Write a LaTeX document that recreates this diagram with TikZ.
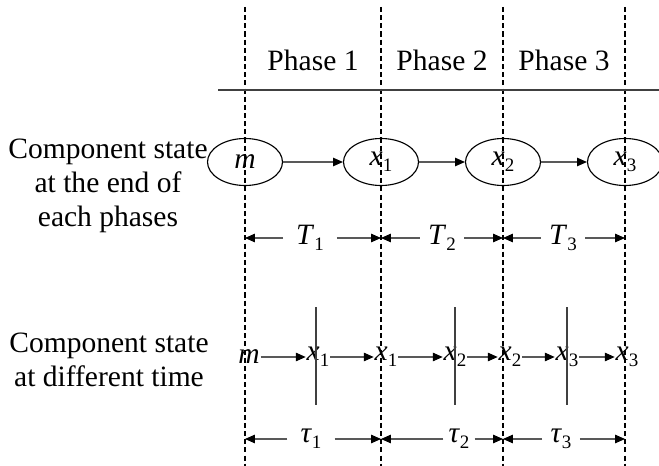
\documentclass[tikz,border=0pt]{standalone}
\usepackage{fontspec}
\setmainfont{Liberation Serif}
\usetikzlibrary{positioning,arrows.meta,shapes.geometric}
\newcommand{\stt}[2]{\textit{#1}\raisebox{-4pt}{\fontsize{13.5}{14}\selectfont #2}}

\begin{document}
\begin{tikzpicture}[x=0.025cm, y=-0.025cm,
  font=\fontsize{21}{24}\selectfont,
  st/.style={draw, ellipse, line width=0.8pt, minimum width=1.875cm, minimum height=1.175cm, inner sep=0pt},
  arr/.style={draw=black!65, line width=0.8pt, -{Triangle[length=7pt, width=6pt, color=black]}},
  ph/.style={dash pattern=on 3.6pt off 2.2pt, line width=0.9pt},
  lab/.style={inner xsep=0.2cm, inner ysep=1pt},
  tk/.style={inner sep=0.5pt}]
\useasboundingbox (0,0) rectangle (659,466);
% phase borders
\foreach \n/\x in {0/245,1/381,2/503,3/625}
  \draw[ph] (\x,7) coordinate (d\n) -- (\x,466);
\draw[line width=0.8pt, black!75] (218,90) -- (659,90);
\node (p1) at (313,60) {Phase 1};
\node (p2) at (442,60) {Phase 2};
\node (p3) at (564,60) {Phase 3};
% end of each phase
\node[align=center] (l1) at (108,186) {Component state\\at the end of\\each  phases};
\node[st] (e0) at (245,162) {\textit{m}};
\node[st] (e1) at (381,162) {\stt{x}{1}};
\node[st] (e2) at (503,162) {\stt{x}{2}};
\node[st] (e3) at (625,162) {\stt{x}{3}};
\foreach \a/\b in {e0/e1,e1/e2,e2/e3} \draw[arr] (\a) -- (\b);
\node[lab, inner xsep=0.32cm] (T1) at (310,238) {\stt{T}{1}};
\node[lab] (T2) at (442,238) {\stt{T}{2}};
\node[lab] (T3) at (563,238) {\stt{T}{3}};
\foreach \t/\a/\b in {T1/d0/d1,T2/d1/d2,T3/d2/d3} {
  \draw[arr] (\t) -- (\t -| \a);
  \draw[arr] (\t) -- (\t -| \b);
}
% different time
\node[align=center] (l2) at (109,360) {Component state\\at different time};
\node[tk] (b0) at (249,357) {\textit{m}};
\node[tk] (v1) at (318,357) {\stt{x}{1}};
\node[tk] (b1) at (386,357) {\stt{x}{1}};
\node[tk] (v2) at (455,357) {\stt{x}{2}};
\node[tk] (b2) at (510,357) {\stt{x}{2}};
\node[tk] (v3) at (567,357) {\stt{x}{3}};
\node[tk] (b3) at (627,357) {\stt{x}{3}};
\foreach \a/\b in {b0/v1,v1/b1,b1/v2,v2/b2,b2/v3,v3/b3} \draw[arr] (\a) -- (\b);
\foreach \v/\x in {v1/316,v2/455,v3/567}
  \draw[line width=0.8pt, black!75] (\x,307) -- (\x,405);
\node[lab, inner xsep=0.32cm] (t1) at (311,439) {\stt{τ}{1}};
\node[lab, inner xsep=0.12cm] (t2) at (459,439) {\stt{τ}{2}};
\node[lab] (t3) at (561,439) {\stt{τ}{3}};
\foreach \t/\a/\b in {t1/d0/d1,t2/d1/d2,t3/d2/d3} {
  \draw[arr] (\t) -- (\t -| \a);
  \draw[arr] (\t) -- (\t -| \b);
}
\end{tikzpicture}
\end{document}
